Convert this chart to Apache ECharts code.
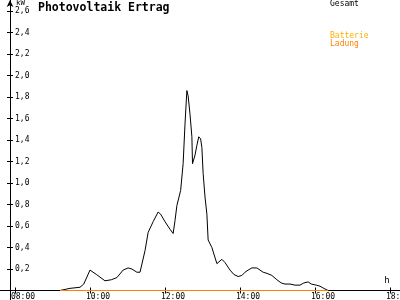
<!DOCTYPE html>
<html>
<head>
<meta charset="utf-8">
<script src="https://cdn.jsdelivr.net/npm/echarts@6/dist/echarts.min.js"></script>
<style>html,body{margin:0;padding:0;background:#fff}#c{width:400px;height:300px}</style>
</head>
<body>
<div id="c"></div>
<script>
// ---- data ----
var gesamtTimes = ["09:12","09:28","09:44","09:50","10:00","10:10","10:24","10:34","10:43","10:53","11:01","11:07","11:15","11:20","11:28","11:33","11:41","11:49","11:53","12:00","12:08","12:13","12:16","12:19","12:25","12:29","12:32","12:35","12:37","12:40","12:43","12:44","12:48","12:51","12:54","12:57","12:59","13:01","13:04","13:07","13:09","13:15","13:23","13:31","13:36","13:44","13:50","13:57","14:03","14:08","14:13","14:19","14:27","14:32","14:37","14:43","14:51","14:59","15:06","15:12","15:20","15:28","15:36","15:42","15:49","15:54","15:57","16:02","16:08","16:14","16:21"];
var gesamtValues = [0,0.02,0.03,0.06,0.19,0.15,0.09,0.10,0.12,0.19,0.21,0.20,0.17,0.17,0.37,0.54,0.64,0.73,0.71,0.64,0.57,0.53,0.65,0.79,0.93,1.18,1.55,1.86,1.81,1.64,1.43,1.18,1.26,1.35,1.43,1.41,1.33,1.09,0.87,0.71,0.47,0.40,0.25,0.29,0.26,0.19,0.15,0.13,0.14,0.17,0.19,0.21,0.21,0.19,0.17,0.16,0.14,0.10,0.07,0.06,0.06,0.05,0.05,0.07,0.08,0.06,0.05,0.05,0.04,0.02,0];
var ladungTimes = ["09:12","16:21"];
var ladungValues = [0,0];
var batterieTimes = [];
var batterieValues = [];
var xTickHours = [8,10,12,14,16,18];
var yTickValues = [0.2,0.4,0.6,0.8,1.0,1.2,1.4,1.6,1.8,2.0,2.2,2.4,2.6];
var seriesNames = ["Gesamt","Batterie","Ladung"];
var titleText = "Photovoltaik Ertrag";
var yUnit = "kW";
var xUnit = "h";

function toHours(s){var p=s.split(":");return +p[0]+(+p[1])/60;}
function pairs(t,v){return t.map(function(s,i){return [toHours(s),v[i]];});}
function hh(h){return (h<10?"0":"")+h+":00";}

var FONT = "DejaVu Sans Mono";
var X_MIN = 7.6, X_MAX = 7.6 + 400/37.5;
var Y_MIN = -9.5/107.5, Y_MAX = 290.5/107.5;

var chart = echarts.init(document.getElementById('c'), null, {renderer:'canvas'});
var xBase = {type:'value',min:X_MIN,max:X_MAX,splitLine:{show:false}};

chart.setOption({
  animation:false,
  backgroundColor:'#fff',
  title:{text:titleText,left:38,top:2,padding:0,textStyle:{fontFamily:FONT,fontWeight:'bold',fontSize:11.5,color:'#000'}},
  legend:[
    {data:[{name:seriesNames[0],textStyle:{color:'#000'}}],left:325,top:0,padding:0,icon:'none',itemWidth:0,itemHeight:0,selectedMode:false,
     textStyle:{fontFamily:FONT,fontSize:8,lineHeight:8}},
    {data:[{name:seriesNames[1],textStyle:{color:'#FFB000'}},{name:seriesNames[2],textStyle:{color:'#FF8000'}}],orient:'vertical',left:325,top:32,padding:0,itemGap:0,icon:'none',itemWidth:0,itemHeight:0,selectedMode:false,
     textStyle:{fontFamily:FONT,fontSize:8,lineHeight:8}}
  ],
  grid:[
    {left:0,right:0,top:0,bottom:0,outerBoundsMode:'none',containLabel:false},
    {left:0,right:0,top:0,bottom:9.5,outerBoundsMode:'none',containLabel:false}
  ],
  xAxis:[
    Object.assign({},xBase,{gridIndex:0,position:'bottom',name:xUnit,nameLocation:'end',nameGap:-13,
      nameTextStyle:{fontFamily:FONT,fontSize:9,color:'#000',align:'center',verticalAlign:'bottom',padding:[0,0,5,0]},
      axisLine:{show:true,onZero:true,lineStyle:{color:'#000',width:1}},
      axisTick:{show:true,inside:false,length:3,customValues:xTickHours,lineStyle:{color:'#000'}},
      axisLabel:{show:false}}),
    Object.assign({},xBase,{gridIndex:1,position:'bottom',axisLine:{show:false,onZero:false},
      axisTick:{show:true,inside:true,length:3,customValues:xTickHours,lineStyle:{color:'#000'}},
      axisLabel:{show:true,margin:2,align:'center',padding:[0,0,0,16],customValues:xTickHours,formatter:function(v){return hh(Math.round(v));},fontFamily:FONT,fontSize:8,color:'#000'}})
  ],
  yAxis:[
    {type:'value',min:Y_MIN,max:Y_MAX,offset:-10,splitLine:{show:false},gridIndex:0,position:'left',name:yUnit,nameLocation:'end',nameGap:-5,
      nameTextStyle:{fontFamily:FONT,fontSize:7.5,color:'#000',align:'left',verticalAlign:'middle',padding:[0,0,0,6]},
      axisLine:{show:true,symbol:['none','arrow'],symbolSize:[5,7],lineStyle:{color:'#000',width:1}},
      axisTick:{show:true,inside:true,length:3,customValues:yTickValues,lineStyle:{color:'#000'}},
      axisLabel:{show:true,inside:true,margin:5,customValues:yTickValues,formatter:function(v){return v.toFixed(1).replace('.',',');},fontFamily:FONT,fontSize:8,color:'#000'}},
    {type:'value',min:0,max:Y_MAX,offset:-10,splitLine:{show:false},gridIndex:1,position:'left',axisLine:{show:false},
      axisTick:{show:true,inside:false,length:3,customValues:yTickValues,lineStyle:{color:'#000'}},
      axisLabel:{show:false}}
  ],
  series:[
    {name:seriesNames[0],type:'line',xAxisIndex:0,yAxisIndex:0,data:pairs(gesamtTimes,gesamtValues),showSymbol:false,symbol:'none',color:'#000',lineStyle:{color:'#000',width:1},z:3},
    {name:seriesNames[1],type:'line',xAxisIndex:0,yAxisIndex:0,data:pairs(batterieTimes,batterieValues),showSymbol:false,symbol:'none',color:'#FFB000',lineStyle:{color:'#FFB000',width:1},z:4},
    {name:seriesNames[2],type:'line',xAxisIndex:0,yAxisIndex:0,data:pairs(ladungTimes,ladungValues),showSymbol:false,symbol:'none',color:'#FF8000',lineStyle:{color:'#FF8000',width:1},z:5}
  ]
});
</script>
</body>
</html>
